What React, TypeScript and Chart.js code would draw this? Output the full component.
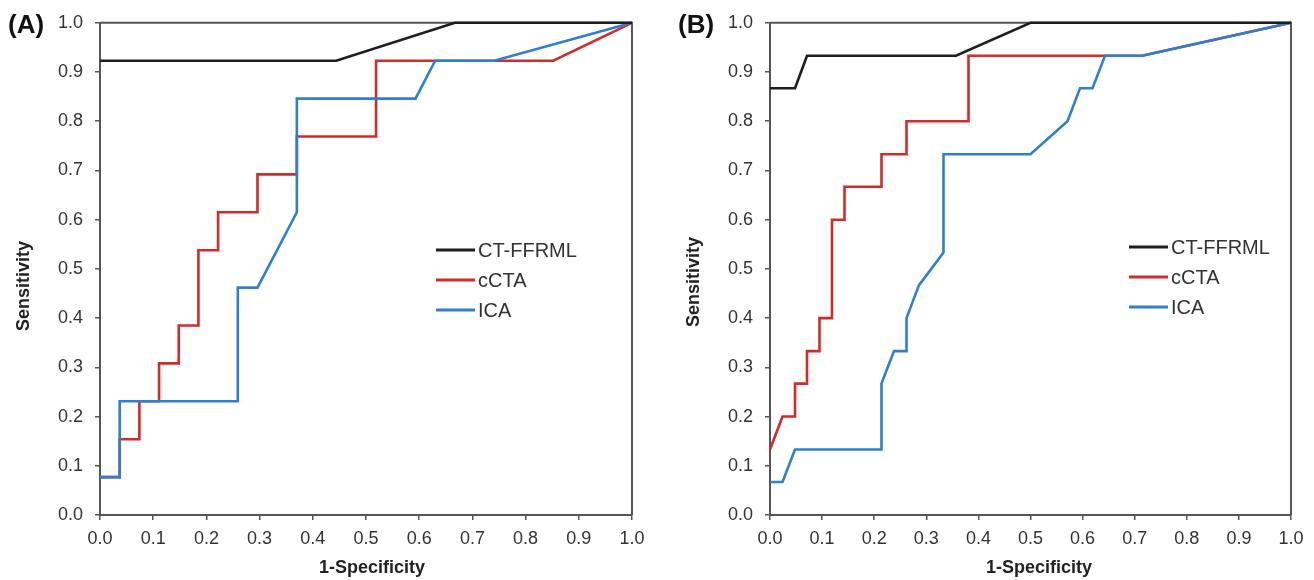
import React, { useEffect, useRef } from "react";
import { Chart, registerables } from "chart.js";

Chart.register(...registerables);

// ---------- data ----------
const seriesNames = ["CT-FFRML", "cCTA", "ICA"];
const seriesColors = ["#1e1e1e", "#d32a2c", "#2f7fd0"];
const axisTicks = [0, 0.1, 0.2, 0.3, 0.4, 0.5, 0.6, 0.7, 0.8, 0.9, 1.0];

// Panel A
const aFfrX = [0, 0.444, 0.667, 1];
const aFfrY = [0.923, 0.923, 1, 1];
const aCctaX = [0, 0.037, 0.037, 0.074, 0.074, 0.111, 0.111, 0.148, 0.148, 0.185, 0.185, 0.222, 0.222, 0.296, 0.296, 0.37, 0.37, 0.519, 0.519, 0.852, 1];
const aCctaY = [0.077, 0.077, 0.154, 0.154, 0.231, 0.231, 0.308, 0.308, 0.385, 0.385, 0.538, 0.538, 0.615, 0.615, 0.692, 0.692, 0.769, 0.769, 0.923, 0.923, 1];
const aIcaX = [0, 0.037, 0.037, 0.259, 0.259, 0.296, 0.37, 0.37, 0.593, 0.63, 0.741, 1];
const aIcaY = [0.077, 0.077, 0.231, 0.231, 0.462, 0.462, 0.615, 0.846, 0.846, 0.923, 0.923, 1];

// Panel B
const bFfrX = [0, 0.048, 0.071, 0.357, 0.5, 1];
const bFfrY = [0.867, 0.867, 0.933, 0.933, 1, 1];
const bCctaX = [0, 0.024, 0.048, 0.048, 0.071, 0.071, 0.095, 0.095, 0.119, 0.119, 0.143, 0.143, 0.214, 0.214, 0.262, 0.262, 0.381, 0.381, 0.714, 1];
const bCctaY = [0.133, 0.2, 0.2, 0.267, 0.267, 0.333, 0.333, 0.4, 0.4, 0.6, 0.6, 0.667, 0.667, 0.733, 0.733, 0.8, 0.8, 0.933, 0.933, 1];
const bIcaX = [0, 0.024, 0.048, 0.214, 0.214, 0.238, 0.262, 0.262, 0.286, 0.333, 0.333, 0.5, 0.571, 0.595, 0.619, 0.643, 0.714, 1];
const bIcaY = [0.067, 0.067, 0.133, 0.133, 0.267, 0.333, 0.333, 0.4, 0.467, 0.533, 0.733, 0.733, 0.8, 0.867, 0.867, 0.933, 0.933, 1];

const xTitle = "1-Specificity";
const yTitle = "Sensitivity";

// ---------- styling ----------
const FONT = "'Liberation Sans', Arial, Helvetica, sans-serif";
const AXIS_COLOR = "#555555";
const TEXT_COLOR = "#333333";

const zip = (xs: number[], ys: number[]) => xs.map((x, i) => ({ x, y: ys[i] }));

type PanelCfg = {
  label: string;
  xs: number[][];
  ys: number[][];
  canvasLeft: number;
  yWidth: number;
  padRight: number;
  padTop: number;
  labelX: number;
  yTitleX: number;
  yTitleY: number;
  xTitleX: number;
  legendX: number;
  legendRows: number[];
};

const W = 657;
const H = 580;

function Panel({ cfg }: { cfg: PanelCfg }) {
  const ref = useRef<HTMLCanvasElement | null>(null);
  useEffect(() => {
    if (!ref.current) return;
    const decor = {
      id: "decor",
      beforeDatasetsDraw(chart: any) {
        const { ctx, chartArea } = chart;
        ctx.save();
        ctx.strokeStyle = AXIS_COLOR;
        ctx.lineWidth = 2;
        ctx.beginPath();
        ctx.moveTo(chartArea.left, chartArea.top);
        ctx.lineTo(chartArea.right, chartArea.top);
        ctx.lineTo(chartArea.right, chartArea.bottom);
        ctx.stroke();
        ctx.restore();
      },
      afterDraw(chart: any) {
        const { ctx } = chart;
        ctx.save();
        // panel label
        ctx.fillStyle = "#111";
        ctx.font = `bold 26px ${FONT}`;
        ctx.textAlign = "left";
        ctx.textBaseline = "middle";
        ctx.fillText(cfg.label, cfg.labelX, 26);
        // y title
        ctx.font = `bold 18px ${FONT}`;
        ctx.fillStyle = "#222";
        ctx.save();
        ctx.translate(cfg.yTitleX, cfg.yTitleY);
        ctx.rotate(-Math.PI / 2);
        ctx.textAlign = "center";
        ctx.textBaseline = "middle";
        ctx.fillText(yTitle, 0, 0);
        ctx.restore();
        // x title
        ctx.textAlign = "center";
        ctx.textBaseline = "middle";
        ctx.fillText(xTitle, cfg.xTitleX, 568);
        // legend
        ctx.font = `20px ${FONT}`;
        seriesNames.forEach((name, i) => {
          const y = cfg.legendRows[i];
          ctx.strokeStyle = seriesColors[i];
          ctx.lineWidth = 3;
          ctx.beginPath();
          ctx.moveTo(cfg.legendX, y);
          ctx.lineTo(cfg.legendX + 39, y);
          ctx.stroke();
          ctx.fillStyle = TEXT_COLOR;
          ctx.textAlign = "left";
          ctx.textBaseline = "middle";
          ctx.fillText(name, cfg.legendX + 42, y + 1);
        });
        ctx.restore();
      },
    };

    const order = [0, 2, 1]; // first dataset is drawn on top
    const datasets = order.map((i) => ({
      label: seriesNames[i],
      data: zip(cfg.xs[i], cfg.ys[i]),
      showLine: true,
      borderColor: seriesColors[i],
      backgroundColor: seriesColors[i],
      borderWidth: 2.6,
      pointRadius: 0,
      pointHoverRadius: 0,
      tension: 0,
      clip: false as any,
      borderJoinStyle: "miter" as const,
    }));

    const tickFont = { family: FONT, size: 18 };
    const chart = new Chart(ref.current, {
      type: "scatter",
      data: { datasets },
      plugins: [decor],
      options: {
        animation: false,
        responsive: false,
        maintainAspectRatio: false,
        devicePixelRatio: 1,
        layout: { padding: { left: 0, right: cfg.padRight, top: cfg.padTop, bottom: 0 } },
        plugins: {
          legend: { display: false },
          tooltip: { enabled: false },
          title: { display: false },
        },
        scales: {
          x: {
            type: "linear",
            min: 0,
            max: 1,
            afterBuildTicks: (scale: any) => {
              scale.ticks = axisTicks.map((v) => ({ value: v }));
            },
            afterFit: (scale: any) => {
              scale.height = 65;
            },
            ticks: {
              font: tickFont,
              color: TEXT_COLOR,
              padding: 8,
              maxRotation: 0,
              autoSkip: false,
              callback: (v: any) => Number(v).toFixed(1),
            },
            grid: { drawOnChartArea: false, drawTicks: true, tickLength: 5, color: AXIS_COLOR, lineWidth: 1.5 },
            border: { display: true, color: AXIS_COLOR, width: 2 },
          },
          y: {
            type: "linear",
            min: 0,
            max: 1,
            afterBuildTicks: (scale: any) => {
              scale.ticks = axisTicks.map((v) => ({ value: v }));
            },
            afterFit: (scale: any) => {
              scale.width = cfg.yWidth;
            },
            ticks: {
              font: tickFont,
              color: TEXT_COLOR,
              padding: 12,
              autoSkip: false,
              callback: (v: any) => Number(v).toFixed(1),
            },
            grid: { drawOnChartArea: false, drawTicks: true, tickLength: 5, color: AXIS_COLOR, lineWidth: 1.5 },
            border: { display: true, color: AXIS_COLOR, width: 2 },
          },
        },
      },
    } as any);
    return () => chart.destroy();
  }, [cfg]);

  return (
    <canvas
      ref={ref}
      width={W}
      height={H}
      style={{ position: "absolute", left: cfg.canvasLeft, top: 0, width: W, height: H }}
    />
  );
}

const panelA: PanelCfg = {
  label: "(A)",
  xs: [aFfrX, aCctaX, aIcaX],
  ys: [aFfrY, aCctaY, aIcaY],
  canvasLeft: 0,
  yWidth: 100,
  padRight: 25,
  padTop: 20,
  labelX: 8,
  yTitleX: 24,
  yTitleY: 286,
  xTitleX: 372,
  legendX: 436,
  legendRows: [250, 280, 310],
};

const panelB: PanelCfg = {
  label: "(B)",
  xs: [bFfrX, bCctaX, bIcaX],
  ys: [bFfrY, bCctaY, bIcaY],
  canvasLeft: 657,
  yWidth: 113,
  padRight: 23,
  padTop: 17,
  labelX: 21,
  yTitleX: 37,
  yTitleY: 282,
  xTitleX: 382,
  legendX: 472,
  legendRows: [247, 277, 307],
};

export default function App() {
  return (
    <div
      style={{
        position: "fixed",
        left: 0,
        top: 0,
        width: 1314,
        height: 580,
        background: "#ffffff",
        overflow: "hidden",
      }}
    >
      <Panel cfg={panelA} />
      <Panel cfg={panelB} />
    </div>
  );
}
